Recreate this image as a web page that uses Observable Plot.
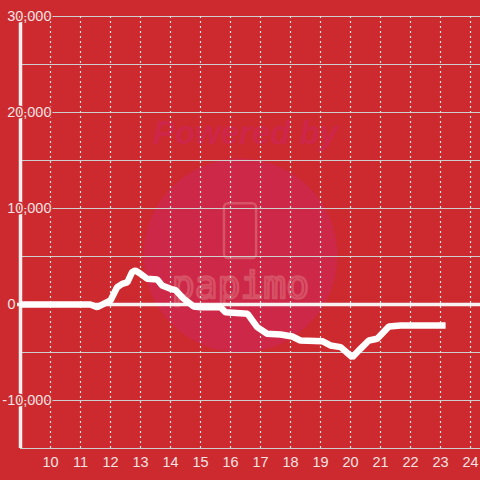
<!DOCTYPE html>
<html>
<head>
<meta charset="utf-8">
<script src="https://cdn.jsdelivr.net/npm/d3@7"></script>
<script src="https://cdn.jsdelivr.net/npm/@observablehq/plot@0.6"></script>
<style>
  html, body { margin: 0; padding: 0; background: #cc2a2f; }
  #chart svg { display: block; }
</style>
</head>
<body>
<div id="chart"></div>
<script>
// Data (hour of day -> value)
const hours  = [9.0, 11.33, 11.56, 12.0, 12.22, 12.39, 12.56, 12.72, 12.83, 13.0, 13.22, 13.56, 13.72, 14.0, 14.17, 14.43, 14.77, 15.0, 15.67, 15.83, 16.57, 16.89, 17.22, 17.67, 18.06, 18.33, 19.06, 19.33, 19.67, 20.06, 20.33, 20.61, 20.89, 21.28, 21.67, 23.17];
const values = [0, 0, -280, 420, 1800, 2150, 2300, 3370, 3540, 3200, 2680, 2600, 1980, 1630, 1500, 620, -200, -280, -280, -800, -970, -2360, -3050, -3125, -3330, -3750, -3820, -4270, -4440, -5490, -4620, -3750, -3570, -2290, -2190, -2190];

const xTicks = [10, 11, 12, 13, 14, 15, 16, 17, 18, 19, 20, 21, 22, 23, 24];
const yTicks = [-10000, 0, 10000, 20000, 30000];
const yGrid  = [-15000, -10000, -5000, 5000, 10000, 15000, 20000, 25000, 30000];

const bg = "#cc2a2f";
const labelColor = "#f3e2e2";
const xMin = 9, xMax = 24.333, yMin = -15000, yMax = 30000;

const series = hours.map((h, i) => ({hour: h, value: values[i]}));
const fmt = d => d.toLocaleString("en-US");

const chart = Plot.plot({
  width: 480,
  height: 480,
  marginLeft: 20,
  marginRight: 0,
  marginTop: 16,
  marginBottom: 32,
  x: {domain: [xMin, xMax], axis: null},
  y: {domain: [yMin, yMax], axis: null},
  style: {background: bg, fontFamily: "'Liberation Sans', Arial, sans-serif"},
  marks: [
    // watermark
    Plot.dot([{x: 16.33, y: 5100}], {x: "x", y: "y", r: 97, fill: "#cd2848", stroke: "none"}),
    Plot.text(["Powered by"], {x: 16.5, y: 17800, text: d => d, fontSize: 33, fontWeight: "bold", fontStyle: "italic", fill: "#cd2648"}),
    Plot.rect([{x1: 15.8, x2: 16.87, y1: 4800, y2: 10500}], {x1: "x1", x2: "x2", y1: "y1", y2: "y2", fill: "none", stroke: "#dc6a78", strokeOpacity: 0.65, strokeWidth: 2.5, rx: 4}),
    Plot.text(["papimo"], {x: 16.33, y: 1950, text: d => d, fontSize: 38, fontFamily: "'DejaVu Sans Mono', monospace", fill: "none", stroke: "#dc6a78", strokeOpacity: 0.65, strokeWidth: 2.5, letterSpacing: 2}),
    // grid
    Plot.ruleY(yGrid, {y: d => d, x1: xMin, x2: xMax, stroke: "#cfcfcf", strokeWidth: 1.2}),
    Plot.ruleX(xTicks, {x: d => d, y1: yMin, y2: yMax, stroke: "#e2e2e2", strokeWidth: 1.2, strokeDasharray: "2,3"}),
    // axis line
    Plot.ruleX([xMin], {x: d => d, y1: yMin, y2: yMax, stroke: "#f0eeee", strokeWidth: 3.5}),
    // zero line
    Plot.ruleY([0], {y: d => d, x1: xMin - 0.1, x2: xMax, stroke: "#f7f3f3", strokeWidth: 3.5}),
    // data line
    Plot.line(series, {x: "hour", y: "value", stroke: "#ffffff", strokeWidth: 6.5, strokeLinejoin: "miter", strokeLinecap: "butt"}),
    // y labels (non-zero: right-aligned with halo)
    Plot.text(yTicks.filter(d => d !== 0), {x: xMin, y: d => d, text: fmt, textAnchor: "end", dx: 31, fontSize: 14.5, fill: labelColor, stroke: bg, strokeWidth: 3, paintOrder: "stroke"}),
    // zero label (left-aligned)
    Plot.text(yTicks.filter(d => d === 0), {x: xMin, y: d => d, text: fmt, textAnchor: "start", dx: -13, fontSize: 14.5, fill: labelColor}),
    // x labels
    Plot.text(xTicks, {x: d => d, y: yMin, text: d => String(d), dy: 14, fontSize: 14.5, fill: labelColor})
  ]
});
document.getElementById("chart").appendChild(chart);
</script>
</body>
</html>
